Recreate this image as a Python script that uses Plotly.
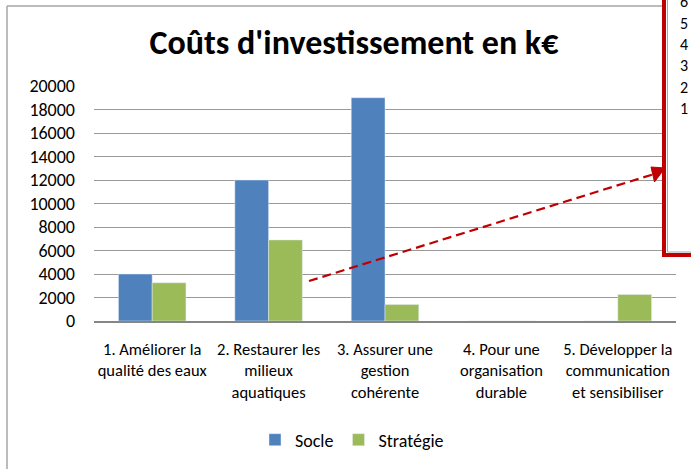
import plotly.graph_objects as go

categories = [
    "1. Améliorer la<br>qualité des eaux",
    "2. Restaurer les<br>milieux<br>aquatiques",
    "3. Assurer une<br>gestion<br>cohérente",
    "4. Pour une<br>organisation<br>durable",
    "5. Développer la<br>communication<br>et sensibiliser",
]
socle = [4000, 12000, 19000, 0, 0]
strategie = [3250, 6900, 1400, 0, 2250]
y_ticks = [0, 2000, 4000, 6000, 8000, 10000, 12000, 14000, 16000, 18000, 20000]
side_labels = ["6", "5", "4", "3", "2", "1"]

W, H = 691, 469
L, R, T, B = 94, 676, 86, 321
FONT = "Carlito, Calibri, Lato, sans-serif"


def px(xp):
    return (xp - L) / (R - L)


def py(yp):
    return (B - yp) / (B - T)


fig = go.Figure()
fig.add_trace(go.Bar(name="Socle", x=categories, y=socle, marker_color="#4F81BD"))
fig.add_trace(go.Bar(name="Stratégie", x=categories, y=strategie, marker_color="#9BBB59"))

shapes = []
# outer chart border (gray)
shapes.append(dict(type="line", xref="paper", yref="paper", x0=px(7), x1=px(7), y0=py(6), y1=py(475),
                   line=dict(color="#A6A6A6", width=1.5), layer="below"))
shapes.append(dict(type="line", xref="paper", yref="paper", x0=px(7), x1=px(700), y0=py(6), y1=py(6),
                   line=dict(color="#A6A6A6", width=1.5), layer="below"))
# overlapping red framed box (other chart)
shapes.append(dict(type="rect", xref="paper", yref="paper", x0=px(664), x1=px(720), y0=py(-20), y1=py(255),
                   line=dict(color="#C00000", width=4), fillcolor="white", layer="above"))
shapes.append(dict(type="rect", xref="paper", yref="paper", x0=px(667.5), x1=px(720), y0=py(-20), y1=py(252),
                   line=dict(color="#A6A6A6", width=1), fillcolor="white", layer="above"))
# dashed red arrow
sx, sy = 309, 281
tx, ty = 665, 168
bx, by = 652.5, 174.5
shapes.append(dict(type="line", xref="paper", yref="paper", x0=px(sx), y0=py(sy), x1=px(bx + 2), y1=py(by - 0.6),
                   line=dict(color="#C00000", width=2.2, dash="9px,5px"), layer="above"))
shapes.append(dict(type="path", xref="paper", yref="paper",
                   path=f"M {px(tx)},{py(ty)} L {px(651)},{py(167)} L {px(654.5)},{py(182)} Z",
                   fillcolor="#C00000", line=dict(color="#C00000", width=1), layer="above"))

annotations = []
for i, t in enumerate(side_labels):
    annotations.append(dict(text=t, xref="paper", yref="paper", x=px(678), y=py(2 + i * 21.3),
                            xanchor="left", yanchor="middle", showarrow=False,
                            font=dict(family=FONT, size=16, color="#000000")))

fig.update_layout(
    width=W, height=H,
    margin=dict(l=L, r=W - R, t=T, b=H - B, pad=0, autoexpand=False),
    paper_bgcolor="white", plot_bgcolor="white",
    barmode="group", bargap=0.42, bargroupgap=0,
    title=dict(text="<b>Coûts d'investissement en k€</b>", x=354 / W, xanchor="center",
               y=1 - 42 / H, yanchor="middle", font=dict(family=FONT, size=34, color="#000000")),
    font=dict(family=FONT, color="#000000"),
    legend=dict(orientation="h", x=px(352), xanchor="center", y=py(440), yanchor="middle",
                font=dict(family=FONT, size=18, color="#000000"), itemclick=False,
                traceorder="normal", itemwidth=30),
    shapes=shapes,
    annotations=annotations,
    showlegend=True,
)
fig.update_yaxes(range=[0, 20000], tickvals=y_ticks, ticktext=[str(v) for v in y_ticks],
                 showgrid=True, gridcolor="#9A9A9A", gridwidth=1, zeroline=False,
                 showline=False, ticks="", ticklabelstandoff=18, automargin=False,
                 tickfont=dict(family=FONT, size=18, color="#000000"), fixedrange=True)
fig.update_xaxes(showline=True, linecolor="#868686", linewidth=2, ticks="", showgrid=False,
                 tickfont=dict(family=FONT, size=16.5, color="#000000"), ticklabelstandoff=12,
                 tickangle=0, fixedrange=True, automargin=False)

fig.write_html(
    "out.html",
    config={"displayModeBar": False, "staticPlot": True},
    post_script="document.body.style.margin='0';document.body.style.overflow='hidden';",
)
